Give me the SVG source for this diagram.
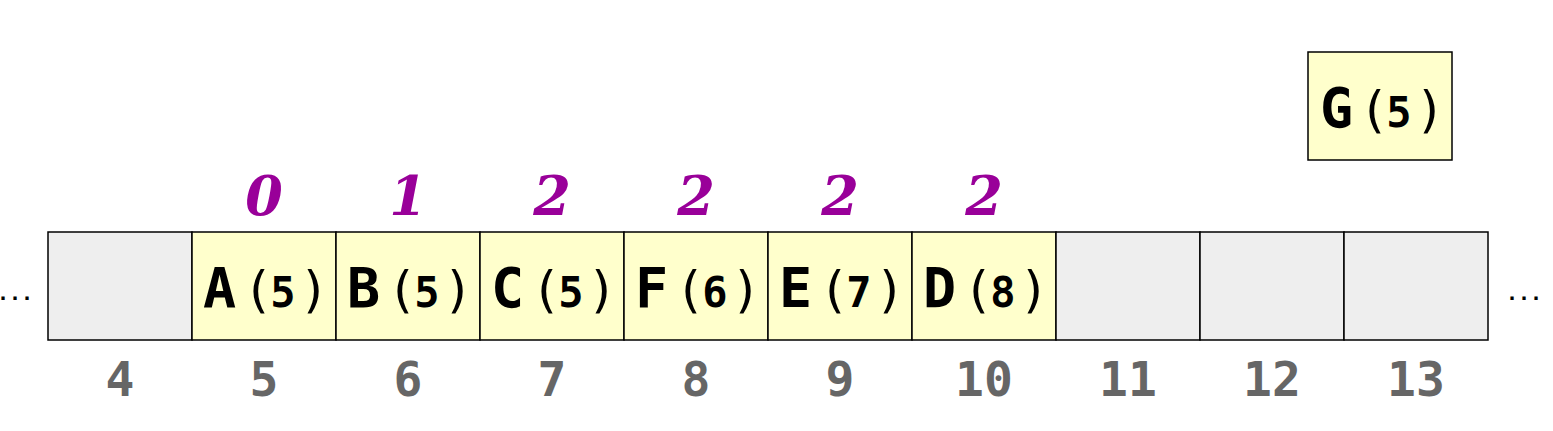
<svg xmlns="http://www.w3.org/2000/svg" width="1553" height="431" viewBox="0 0 1553 431">
<style>
.cell{stroke:#000;stroke-width:1.5}
.empty{fill:#eeeeee}
.full{fill:#ffffcc}
.t{font-family:"DejaVu Sans Mono",monospace;font-weight:bold;fill:#000}
.L{font-size:55px}
.P{font-size:50px;font-weight:normal}
.N{font-size:42px}
.idx{font-family:"DejaVu Sans Mono",monospace;font-weight:bold;font-size:48px;fill:#666666;text-anchor:middle}
.cnt{font-family:"DejaVu Serif",serif;font-weight:bold;font-style:italic;font-size:54px;fill:#990099;text-anchor:middle}
.dots{font-family:"DejaVu Sans Mono",monospace;font-weight:bold;font-size:20px;fill:#000}
.m{text-anchor:middle}
</style>
<rect width="1553" height="431" fill="#ffffff"/>
<g id="cells">
<g id="cell4"><rect class="cell empty" x="48" y="232" width="144" height="108"/></g>
<g id="cell5"><rect class="cell full" x="192" y="232" width="144" height="108"/>
<text class="t" y="307"><tspan class="L" x="203">A</tspan><tspan class="P m" x="258">(</tspan><tspan class="N m" x="283">5</tspan><tspan class="P m" x="314">)</tspan></text></g>
<g id="cell6"><rect class="cell full" x="336" y="232" width="144" height="108"/>
<text class="t" y="307"><tspan class="L" x="347">B</tspan><tspan class="P m" x="402">(</tspan><tspan class="N m" x="427">5</tspan><tspan class="P m" x="458">)</tspan></text></g>
<g id="cell7"><rect class="cell full" x="480" y="232" width="144" height="108"/>
<text class="t" y="307"><tspan class="L" x="491">C</tspan><tspan class="P m" x="546">(</tspan><tspan class="N m" x="571">5</tspan><tspan class="P m" x="602">)</tspan></text></g>
<g id="cell8"><rect class="cell full" x="624" y="232" width="144" height="108"/>
<text class="t" y="307"><tspan class="L" x="635">F</tspan><tspan class="P m" x="690">(</tspan><tspan class="N m" x="715">6</tspan><tspan class="P m" x="746">)</tspan></text></g>
<g id="cell9"><rect class="cell full" x="768" y="232" width="144" height="108"/>
<text class="t" y="307"><tspan class="L" x="779">E</tspan><tspan class="P m" x="834">(</tspan><tspan class="N m" x="859">7</tspan><tspan class="P m" x="890">)</tspan></text></g>
<g id="cell10"><rect class="cell full" x="912" y="232" width="144" height="108"/>
<text class="t" y="307"><tspan class="L" x="923">D</tspan><tspan class="P m" x="978">(</tspan><tspan class="N m" x="1003">8</tspan><tspan class="P m" x="1034">)</tspan></text></g>
<g id="cell11"><rect class="cell empty" x="1056" y="232" width="144" height="108"/></g>
<g id="cell12"><rect class="cell empty" x="1200" y="232" width="144" height="108"/></g>
<g id="cell13"><rect class="cell empty" x="1344" y="232" width="144" height="108"/></g>
</g>
<g id="nodeG"><rect class="cell full" x="1308" y="52" width="144" height="108"/>
<text class="t" y="127"><tspan class="L" x="1320">G</tspan><tspan class="P m" x="1374">(</tspan><tspan class="N m" x="1399">5</tspan><tspan class="P m" x="1430">)</tspan></text></g>
<g id="counts">
<text class="cnt" x="264" y="215">0</text>
<text class="cnt" x="408" y="215">1</text>
<text class="cnt" x="552" y="215">2</text>
<text class="cnt" x="696" y="215">2</text>
<text class="cnt" x="840" y="215">2</text>
<text class="cnt" x="984" y="215">2</text>
</g>
<g id="indices">
<text class="idx" x="120" y="396">4</text>
<text class="idx" x="264" y="396">5</text>
<text class="idx" x="408" y="396">6</text>
<text class="idx" x="552" y="396">7</text>
<text class="idx" x="696" y="396">8</text>
<text class="idx" x="840" y="396">9</text>
<text class="idx" x="984" y="396">10</text>
<text class="idx" x="1128" y="396">11</text>
<text class="idx" x="1272" y="396">12</text>
<text class="idx" x="1416" y="396">13</text>
</g>
<g id="ellipses">
<text class="dots" x="-3" y="300">...</text>
<text class="dots" x="1506" y="300">...</text>
</g>
<g id="connectors"></g>
</svg>
